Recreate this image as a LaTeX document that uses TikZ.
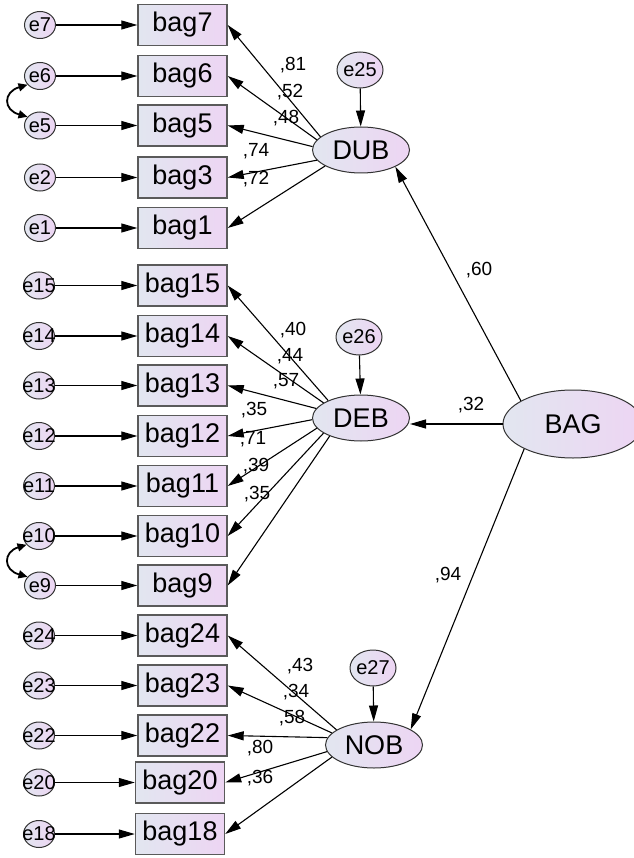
\documentclass[tikz,border=0pt]{standalone}
\usepackage{fontspec}
\setmainfont{Liberation Sans}
\usetikzlibrary{arrows.meta,shapes.geometric}
\definecolor{gl}{RGB}{226,230,240}
\definecolor{gr}{RGB}{237,213,243}
\definecolor{bd}{RGB}{90,90,90}
\newcommand\zt[1]{\makebox[0pt]{#1}}
\begin{document}
\begin{tikzpicture}[x=1pt,y=-1pt,
  obs/.style={draw=bd, line width=1.4pt, left color=gl, right color=gr, minimum width=89pt, minimum height=41pt, inner sep=0pt, font=\fontsize{27}{27}\selectfont},
  lat/.style={ellipse, draw=black!80, line width=1pt, left color=gl, right color=gr, minimum width=97pt, minimum height=46pt, inner sep=0pt, font=\fontsize{27}{27}\selectfont},
  err/.style={ellipse, draw=black!80, line width=1pt, left color=gl, right color=gr, minimum width=31pt, minimum height=27pt, inner sep=0pt, font=\fontsize{20}{20}\selectfont},
  derr/.style={err, minimum width=46pt, minimum height=36pt},
  arr/.style={-{Triangle[length=16pt,width=9pt]}, line width=1.1pt},
  cov/.style={{Triangle[length=9pt,width=8pt]}-{Triangle[length=9pt,width=8pt]}, line width=1.8pt},
  coef/.style={font=\fontsize{19}{19}\selectfont, inner sep=0pt}
]
\fill[white] (0,0) rectangle (633,858);
\useasboundingbox (0,0) rectangle (633,858);

% latent variables
\node[lat] (DUB) at (361,150) {DUB};
\node[lat] (DEB) at (361,418) {DEB};
\node[lat] (NOB) at (374,745) {NOB};
\node[lat, minimum width=140pt, minimum height=68pt] (BAG) at (573,424) {BAG};
\node[derr] (err25) at (360,70) {\zt{e25}};
\node[derr] (err26) at (359,337) {\zt{e26}};
\node[derr] (err27) at (373,668) {\zt{e27}};

% observed variables
\node[obs] (bag7) at (182.5,25) {bag7};
\node[obs] (bag6) at (182.5,76) {bag6};
\node[obs] (bag5) at (182.5,125.5) {bag5};
\node[obs] (bag3) at (182.5,177.5) {bag3};
\node[obs] (bag1) at (182.5,228) {bag1};
\node[obs] (bag15) at (182.5,285.5) {bag15};
\node[obs] (bag14) at (182.5,336) {bag14};
\node[obs] (bag13) at (182.5,385.5) {bag13};
\node[obs] (bag12) at (182.5,436) {bag12};
\node[obs] (bag11) at (182.5,486) {bag11};
\node[obs] (bag10) at (182.5,536) {bag10};
\node[obs] (bag9) at (182.5,585.5) {bag9};
\node[obs] (bag24) at (182.5,635.5) {bag24};
\node[obs] (bag23) at (182.5,685.5) {bag23};
\node[obs] (bag22) at (182.5,735.5) {bag22};
\node[obs] (bag20) at (180,782.5) {bag20};
\node[obs] (bag18) at (180,834) {bag18};

% errors
\node[err] (err7) at (40,25) {\zt{e7}};
\node[err] (err6) at (40,76) {\zt{e6}};
\node[err] (err5) at (40,125.5) {\zt{e5}};
\node[err] (err2) at (40,177.5) {\zt{e2}};
\node[err] (errone) at (40,228) {\zt{e1}};
\node[err] (err15) at (39,285.5) {\zt{e15}};
\node[err] (err14) at (39,336) {\zt{e14}};
\node[err] (err13) at (39,385.5) {\zt{e13}};
\node[err] (err12) at (39,436) {\zt{e12}};
\node[err] (err11) at (39,486) {\zt{e11}};
\node[err] (err10) at (39,536) {\zt{e10}};
\node[err] (err9) at (40,585.5) {\zt{e9}};
\node[err] (err24) at (39,635.5) {\zt{e24}};
\node[err] (err23) at (39,685.5) {\zt{e23}};
\node[err] (err22) at (39,735.5) {\zt{e22}};
\node[err] (err20) at (39,782.5) {\zt{e20}};
\node[err] (err18) at (39,834) {\zt{e18}};

\draw[arr] (err7) -- (bag7);
\draw[arr] (err6) -- (bag6);
\draw[arr] (err5) -- (bag5);
\draw[arr] (err2) -- (bag3);
\draw[arr] (errone.east) -- (bag1.west);
\draw[arr] (err15) -- (bag15);
\draw[arr] (err14) -- (bag14);
\draw[arr] (err13) -- (bag13);
\draw[arr] (err12) -- (bag12);
\draw[arr] (err11) -- (bag11);
\draw[arr] (err10) -- (bag10);
\draw[arr] (err9) -- (bag9);
\draw[arr] (err24) -- (bag24);
\draw[arr] (err23) -- (bag23);
\draw[arr] (err22) -- (bag22);
\draw[arr] (err20) -- (bag20);
\draw[arr] (err18) -- (bag18);

% disturbances
\draw[arr] (err25) -- (DUB);
\draw[arr] (err26) -- (DEB);
\draw[arr] (err27) -- (NOB);

% structural paths
\draw[arr] (BAG.156) -- (DUB.-26);
\draw[arr] (BAG.west) -- (BAG.west -| DEB.east);
\draw[arr] (BAG.207.5) -- (NOB.23.5);

% loadings DUB
\draw[arr] (DUB.162) -- (bag7.east);
\draw[arr] (DUB.167) -- (bag6.east);
\draw[arr] (DUB.176) -- (bag5.east);
\draw[arr] (DUB.193) -- (bag3.east);
\draw[arr] (DUB.204) -- (bag1.east);
% loadings DEB
\draw[arr] (DEB.152) -- (bag15.east);
\draw[arr] (DEB.158) -- (bag14.east);
\draw[arr] (DEB.168) -- (bag13.east);
\draw[arr] (DEB.182) -- (bag12.east);
\draw[arr] (DEB.193) -- (bag11.east);
\draw[arr] (DEB.202) -- (bag10.east);
\draw[arr] (DEB.210) -- (bag9.east);
% loadings NOB
\draw[arr] (NOB.158) -- (bag24.east);
\draw[arr] (NOB.164) -- (bag23.east);
\draw[arr] (NOB.171) -- (bag22.east);
\draw[arr] (NOB.188) -- (bag20.east);
\draw[arr] (NOB.196) -- (bag18.east);

% covariances
\draw[cov] (err6.215) .. controls (3,92) and (3,110) .. (err5.145);
\draw[cov] (err10.215) .. controls (3,552) and (3,570) .. (err9.145);

% coefficients
\node[coef] (c81) at (293,65) {,81};
\node[coef] (c52) at (290,92) {,52};
\node[coef] (c48) at (286,118) {,48};
\node[coef] (c74) at (256,151) {,74};
\node[coef] (c72) at (256,179) {,72};
\node[coef] (c40) at (293,330) {,40};
\node[coef] (c44) at (290,356) {,44};
\node[coef] (c57) at (286,381) {,57};
\node[coef] (c35a) at (254,410) {,35};
\node[coef] (c71) at (253,439) {,71};
\node[coef] (c39) at (256,466) {,39};
\node[coef] (c35b) at (257,494) {,35};
\node[coef] (c60) at (479,270) {,60};
\node[coef] (c32) at (471,405) {,32};
\node[coef] (c94) at (448,575) {,94};
\node[coef] (c43) at (300,666) {,43};
\node[coef] (c34) at (296,692) {,34};
\node[coef] (c58) at (292,718) {,58};
\node[coef] (c80) at (260,748) {,80};
\node[coef] (c36) at (260,778) {,36};
\end{tikzpicture}
\end{document}
